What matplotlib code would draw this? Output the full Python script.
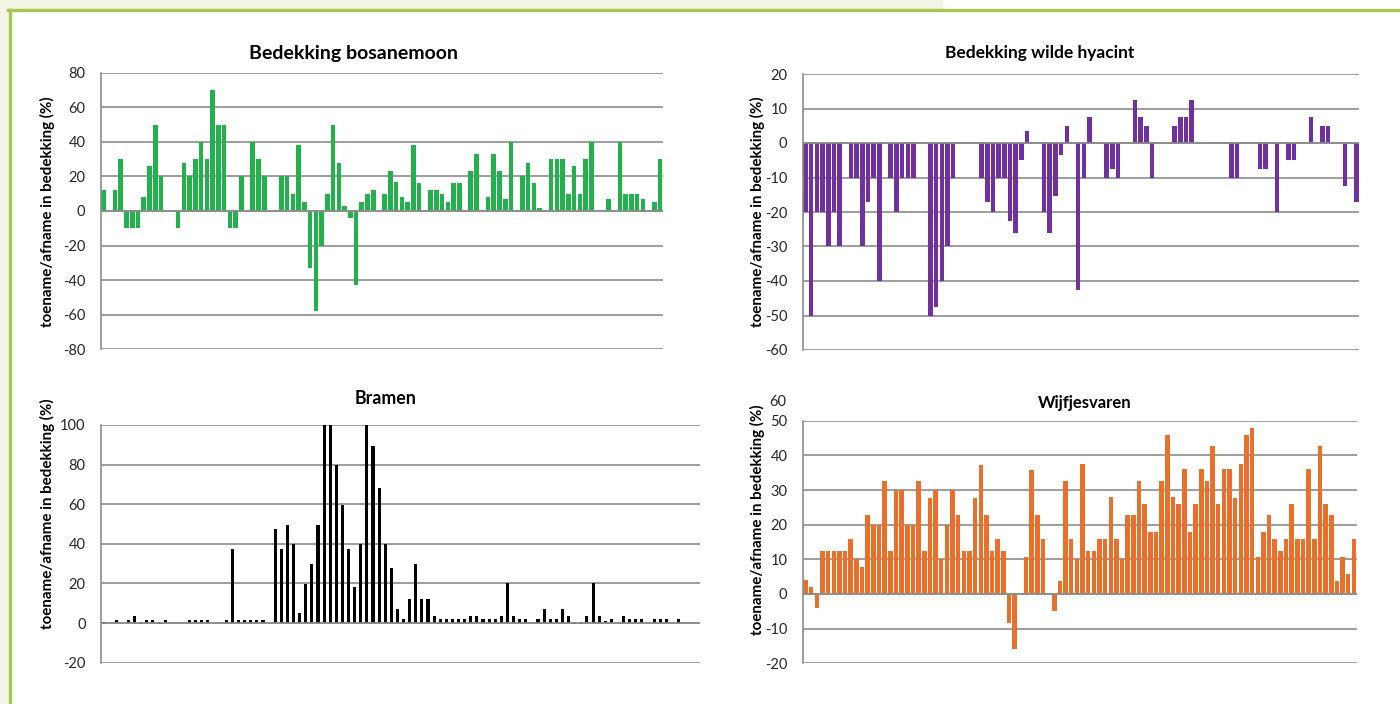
import numpy as np
import matplotlib.pyplot as plt
from matplotlib.patches import Rectangle
from matplotlib.lines import Line2D

plt.rcParams['font.family'] = ['Lato', 'DejaVu Sans']
plt.rcParams['axes.unicode_minus'] = False

W, H = 1400, 704

# change in cover per plot (%), 98 plots
bosanemoon = [12, 0, 12, 30, -10, -10, -10, 8, 26, 50,
              20, 0, 0, -10, 28, 20, 30, 40, 30, 70,
              50, 50, -10, -10, 20, 0, 40, 30, 20, 0,
              0, 20, 20, 10, 38, 5, -33, -58, -20, 10,
              50, 28, 3, -4, -43, 5, 10, 12, 0, 10,
              23, 17, 8, 5, 38, 16, 0, 12, 12, 10,
              5, 16, 16, 0, 23, 33, 0, 8, 33, 23,
              7, 40, 0, 20, 28, 16, 1.5, 0, 30, 30,
              30, 10, 26, 10, 30, 40, 0, 0, 7, 0,
              40, 10, 10, 10, 7, 0, 5, 30]

hyacint = [-20, -50, -20, -20, -30, -20, -30, 0, -10, -10,
           -30, -17, -10, -40, 0, -10, -20, -10, -10, -10,
           0, 0, -50, -47.5, -40, -30, -10, 0, 0, 0,
           0, -10, -17, -20, -10, -10, -22.5, -26, -5, 3.5,
           0, 0, -20, -26, -15.5, -3.5, 5, 0, -42.5, -10,
           7.5, 0, 0, -10, -7.5, -10, 0, 0, 12.5, 7.5,
           5, -10, 0, 0, 0, 5, 7.5, 7.5, 12.5, 0,
           0, 0, 0, 0, 0, -10, -10, 0, 0, 0,
           -7.5, -7.5, 0, -20, 0, -5, -5, 0, 0, 7.5,
           0, 5, 5, 0, 0, -12.5, 0, -17]

bramen = [0.5, 0, 1.7, 0, 1.7, 3.4, -0.5, 1.7, 1.7, -0.5,
          1.7, 0, 0, 0, 1.7, 1.7, 1.7, 1.7, 0, 0,
          1.7, 37.3, 1.7, 1.7, 1.7, 1.7, 1.7, 0, 47.7, 37.3,
          49.4, 40, 5, 19.8, 30, 49.4, 100, 100, 80, 59.7,
          37.3, 18, 40, 100, 89.4, 68, 40, 28, 7, 2,
          12, 30, 12, 12, 3.4, 2, 2, 2, 2, 2,
          3.4, 3.4, 2, 2, 2, 3.4, 20, 3.4, 2, 2,
          0, 2, 7, 2, 2, 7, 3.4, -0.5, -0.5, 3.4,
          20, 3.4, 1, 2, 0, 3.4, 2, 2, 2, 0,
          2, 2, 2, 0, 2, 0, 0, 0]

wijfjesvaren = [4, 2, -4, 12.5, 12.5, 12.5, 12.5, 12.5, 16, 10,
                7.7, 22.8, 20, 20, 32.6, 12.5, 30, 30, 20, 20,
                32.6, 12.5, 27.6, 30, 10, 20, 30, 22.8, 12.5, 12.5,
                27.6, 37.2, 22.8, 12.5, 15.8, 12.5, -8.3, -16, 0, 10.6,
                35.8, 22.8, 15.8, 0, -4.8, 3.8, 32.6, 15.8, 10, 37.4,
                12.5, 12.5, 15.8, 15.8, 28, 15.8, 10, 22.8, 22.8, 32.6,
                26, 18, 18, 32.6, 46, 28, 26, 36, 18, 26,
                36, 32.6, 42.7, 26, 36, 36, 27.6, 37.4, 46, 48,
                10.6, 18, 22.8, 15.8, 12.5, 15.8, 26, 15.8, 15.8, 36,
                15.8, 42.7, 26, 22.8, 3.8, 10.6, 5.8, 15.8]

ylabel = 'toename/afname in bedekking (%)'
grid_col = '#8c8c8c'
frame_col = '#a8c64e'
page_col = '#f2f5e6'


def px(x, y):
    return x / W, 1 - y / H


def make_axes(left, top, right, bottom):
    x0, y1 = px(left, top)
    x1, y0 = px(right, bottom)
    return fig.add_axes([x0, y0, x1 - x0, y1 - y0])


def style(ax, values, color, width, ylim, step):
    x = np.arange(len(values))
    ax.bar(x, values, width=width, color=color, zorder=2, linewidth=0)
    ax.set_xlim(-0.5, len(values) - 0.5)
    ax.set_ylim(*ylim)
    ax.set_yticks(np.arange(ylim[0], ylim[1] + step / 2, step))
    ax.yaxis.grid(True, color=grid_col, linewidth=1.2, zorder=0)
    ax.set_axisbelow(True)
    ax.axhline(0, color=grid_col, linewidth=1.2, zorder=3)
    ax.set_xticks([])
    for side in ['top', 'right', 'bottom']:
        ax.spines[side].set_visible(False)
    ax.spines['left'].set_color(grid_col)
    ax.spines['left'].set_linewidth(1.2)
    ax.tick_params(axis='y', length=0, pad=11, labelsize=10.5, labelcolor='#262626')


fig = plt.figure(figsize=(W / 100, H / 100), dpi=100)

# page background and frame
fig.add_artist(Rectangle(px(0, 8), 942 / W, 8 / H, transform=fig.transFigure,
                         color=page_col, zorder=0))
fig.add_artist(Rectangle((0, 0), 8 / W, 1, transform=fig.transFigure,
                         color=page_col, zorder=0))
fig.add_artist(Line2D([8 / W, 1], [1 - 9.5 / H] * 2, transform=fig.transFigure,
                      color=frame_col, linewidth=2.4))
fig.add_artist(Line2D([9.5 / W] * 2, [0, 1 - 9.5 / H], transform=fig.transFigure,
                      color=frame_col, linewidth=2.4))

ax1 = make_axes(100.7, 72.7, 663, 349.3)
style(ax1, bosanemoon, '#22b14c', 0.8, (-80, 80), 20)

ax2 = make_axes(802.7, 74, 1359.3, 350)
style(ax2, hyacint, '#7030a0', 0.8, (-60, 20), 10)

ax3 = make_axes(101, 425, 700, 662.7)
style(ax3, bramen, '#000000', 0.5, (-20, 100), 20)

ax4 = make_axes(802.7, 420.7, 1356.7, 663.3)
style(ax4, wijfjesvaren, '#e8702a', 0.8, (-20, 50), 10)
# axis maximum label sits above the plot area
ax4.text(-0.0289, 1 + 19 / 242.6, '60', transform=ax4.transAxes, ha='right',
         va='center', fontsize=10.5, color='#262626')

titles = [('Bedekking bosanemoon', 353, 53, 14), ('Bedekking wilde hyacint', 1040, 53, 12.5),
          ('Bramen', 386, 398, 12.8), ('Wijfjesvaren', 1085, 403, 12)]
for text, x, y, size in titles:
    fig.text(*px(x, y), text, ha='center', va='center', fontsize=size,
             fontweight='bold', color='#000000')

for x, y in [(47, 212), (47, 514), (757, 212), (757, 520)]:
    fig.text(*px(x, y), ylabel, ha='center', va='center', rotation=90,
             fontsize=10.9, fontweight='bold', color='#000000')

fig.savefig('out.png', dpi=100, facecolor='white')
